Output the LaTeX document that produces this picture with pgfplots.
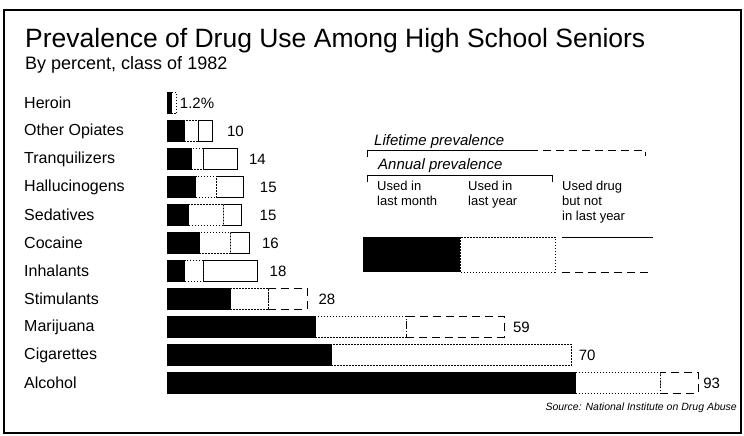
\documentclass[border=0pt]{standalone}
\usepackage{pgfplots}
\pgfplotsset{compat=1.18}
\usepackage{pgfplotstable}
\usepackage{fontspec}
\setmainfont{Liberation Sans}

\newcommand{\gap}[1]{\hspace*{#1bp}}

\pgfplotstableread{
y s1 s2 s3a s3b tot lab
10 0.7 1.0 0 0 1.7 {\gap{3}1.2\%}
9 3.0 2.4 2.6 0 8.0 {\gap{14}10}
8 4.2 2.1 5.9 0 12.2 {\gap{12}14}
7 5.0 3.7 4.7 0 13.4 {\gap{16}15}
6 3.8 6.1 3.1 0 13.0 {\gap{18}15}
5 5.6 5.5 3.2 0 14.3 {\gap{13}16}
4 3.1 3.2 9.5 0 15.8 {\gap{12}18}
3 11.0 6.7 0 6.8 24.5 {\gap{11}28}
2 25.9 15.8 0 17.1 58.8 {\gap{9}59}
1 28.7 41.9 0 0 70.6 {\gap{7}70}
0 71.3 14.8 0 6.6 92.7 {\gap{5}93}
}\data

\newcommand{\fs}[1]{\fontsize{#1bp}{1.2\dimexpr#1bp\relax}\selectfont}

\pgfplotsset{geom/.style={
  at={(167bp,39bp)}, anchor=south west,
  scale only axis, width=573bp, height=308bp,
  xmin=0, xmax=100, ymin=-0.5, ymax=10.5, clip=false}}

\begin{document}
\begin{tikzpicture}[x=1bp,y=1bp]
\path[use as bounding box] (0,0) rectangle (744,436);
\draw[line width=1.5bp] (4,426) rectangle (741,3);

\node[anchor=base west, inner sep=0pt, font=\fs{26.5}] at (25,388) {Prevalence of Drug Use Among High School Seniors};
\node[anchor=base west, inner sep=0pt, font=\fs{18}] at (25,366) {By percent, class of 1982};

\begin{axis}[geom,
  xbar stacked, bar width=21bp,
  axis line style={draw=none}, xtick=\empty,
  ytick={0,...,10},
  yticklabels={Alcohol,Cigarettes,Marijuana,Stimulants,Inhalants,Cocaine,Sedatives,Hallucinogens,Tranquilizers,Other Opiates,Heroin},
  major tick length=0pt,
  yticklabel style={anchor=west, inner sep=0pt, xshift=-143bp, font=\fs{16}},
]
\addplot[fill=black, draw=black, line width=0.8bp] table[x=s1,y=y]{\data};
\addplot[fill=white, draw=black, line width=0.8bp, dash pattern=on 1.5bp off 1.5bp] table[x=s2,y=y]{\data};
\addplot[fill=white, draw=black, line width=0.8bp] table[x=s3a,y=y]{\data};
\addplot[fill=white, draw=black, line width=0.8bp, dash pattern=on 8bp off 5bp] table[x=s3b,y=y]{\data};
\end{axis}

\begin{axis}[geom, hide axis]
\addplot[draw=none, mark=none, point meta=explicit symbolic,
  nodes near coords={\pgfplotspointmeta},
  nodes near coords style={anchor=west, inner sep=0pt, font=\fs{15}}
] table[x=tot,y=y,meta=lab]{\data};
\end{axis}

% key
\node[anchor=base west, inner sep=0pt, font=\fs{15}\itshape] at (374,290) {Lifetime prevalence};
\draw[line width=0.8bp] (367,279) -- (367,286) -- (530,286);
\draw[line width=0.8bp, dash pattern=on 8bp off 5bp] (530,286) -- (645,286) -- (645,280);
\node[anchor=base west, inner sep=0pt, font=\fs{15}\itshape] at (378,266) {Annual prevalence};
\draw[line width=0.8bp] (367,254) -- (367,261) -- (552,261) -- (552,254);
\node[anchor=base west, inner sep=0pt, font=\fs{13}] at (377,245) {Used in};
\node[anchor=base west, inner sep=0pt, font=\fs{13}] at (377,230) {last month};
\node[anchor=base west, inner sep=0pt, font=\fs{13}] at (468,245) {Used in};
\node[anchor=base west, inner sep=0pt, font=\fs{13}] at (468,230) {last year};
\node[anchor=base west, inner sep=0pt, font=\fs{13}] at (562,245) {Used drug};
\node[anchor=base west, inner sep=0pt, font=\fs{13}] at (562,230) {but not};
\node[anchor=base west, inner sep=0pt, font=\fs{13}] at (562,215) {in last year};
\fill[black] (363,164) rectangle (460,199);
\draw[line width=0.8bp, dash pattern=on 1.5bp off 1.5bp] (460,164) rectangle (555,199);
\draw[line width=0.8bp] (562,199) -- (653,199);
\draw[line width=0.8bp, dash pattern=on 8bp off 5bp] (562,164) -- (653,164);

\node[anchor=base east, inner sep=0pt, font=\fs{10.5}\itshape] at (737,25) {Source: National Institute on Drug Abuse};
\end{tikzpicture}
\end{document}
